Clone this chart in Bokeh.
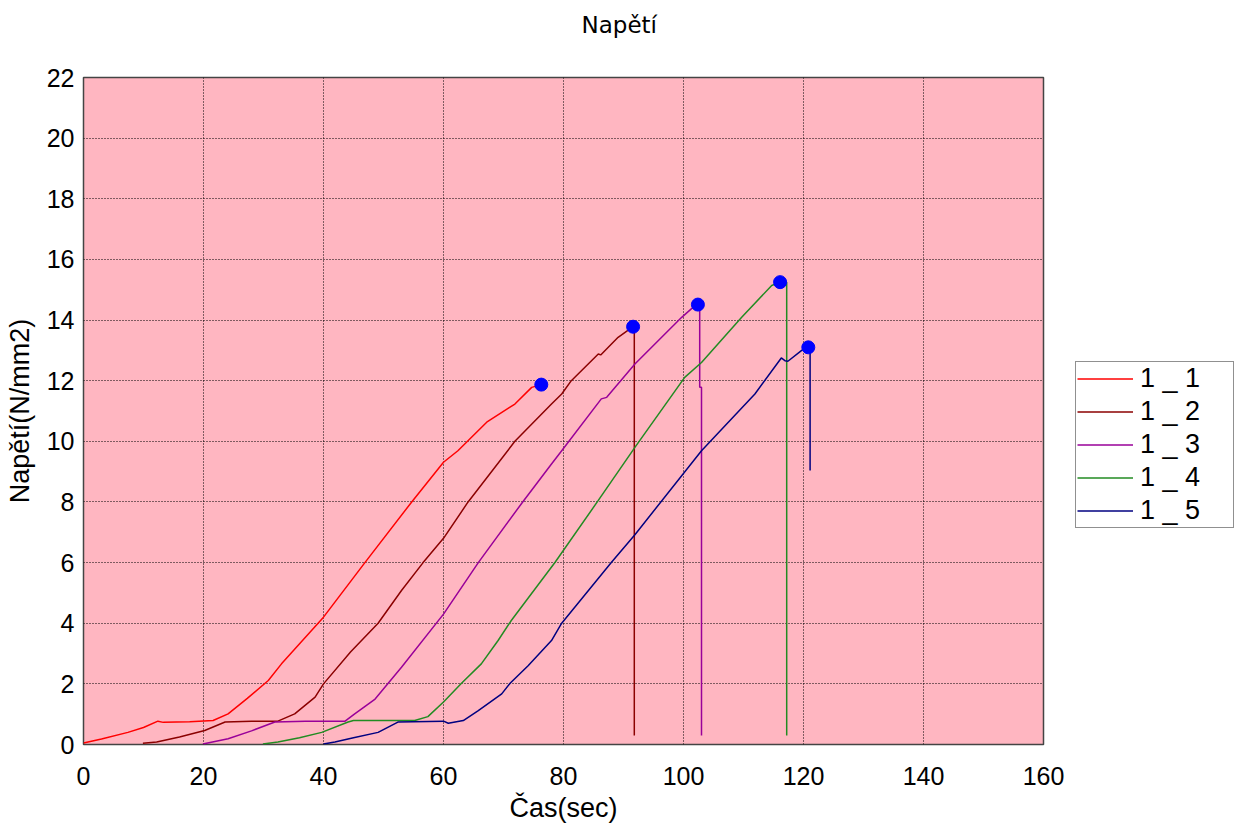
from bokeh.plotting import figure
from bokeh.models import Legend, LegendItem, Range1d, FixedTicker, Title
from bokeh.embed import file_html
from bokeh.resources import INLINE

# ---- data ----
x_ticks = [0, 20, 40, 60, 80, 100, 120, 140, 160]
y_ticks = [0, 2, 4, 6, 8, 10, 12, 14, 16, 18, 20, 22]

labels = ["1 _ 1", "1 _ 2", "1 _ 3", "1 _ 4", "1 _ 5"]

s1_x = [0, 3, 7.4, 10, 12.4, 13.3, 17.7, 21.6, 24.1, 27.3, 30.8, 33, 40, 46.9,
        54.7, 60, 62.4, 67.2, 71.9, 74.7, 76.3]
s1_y = [0.05, 0.18, 0.40, 0.56, 0.77, 0.73, 0.75, 0.79, 1.01, 1.52, 2.11, 2.66, 4.2, 6.0,
        8.0, 9.31, 9.69, 10.63, 11.23, 11.78, 11.87]

s2_x = [9.9, 12.2, 16, 20.2, 23.6, 28, 32.4, 35.2, 38.6, 40, 44.5, 49.1, 53, 56.6, 60,
        64.1, 71.9, 78, 79.7, 81.3, 85.8, 86.2, 89.1, 91.6, 91.8, 91.8]
s2_y = [0.04, 0.08, 0.25, 0.46, 0.74, 0.77, 0.77, 1.01, 1.56, 2.0, 3.05, 4.0, 5.08, 6.0, 6.8,
        8.0, 10.0, 11.23, 11.56, 12.0, 12.88, 12.85, 13.43, 13.78, 13.78, 0.3]

s3_x = [19.9, 24.1, 28, 31.9, 37, 43.6, 45.2, 48.6, 53, 60, 65.8, 73.2, 78, 79.7, 86.3,
        87.2, 91.9, 99.7, 101.3, 102.4, 102.7, 102.7, 103.0, 103.0]
s3_y = [0.02, 0.19, 0.45, 0.74, 0.77, 0.77, 1.01, 1.5, 2.55, 4.3, 6.0, 8.0, 9.25, 9.69, 11.4,
        11.45, 12.55, 14.09, 14.37, 14.51, 14.51, 11.78, 11.78, 0.3]

s4_x = [29.9, 32.4, 36, 39.7, 44.1, 45, 52.4, 55.2, 57.4, 60, 63, 66.3, 69.1, 71.3, 78.6,
        85.8, 91.9, 100.2, 103, 109.7, 114.7, 116.1, 117.2, 117.2]
s4_y = [0.02, 0.08, 0.22, 0.4, 0.74, 0.79, 0.79, 0.79, 0.92, 1.4, 2.02, 2.66, 3.43, 4.09, 6.01,
        8.05, 9.8, 12.11, 12.6, 14.09, 15.14, 15.25, 15.25, 0.3]

s5_x = [40, 41.9, 45, 49.1, 52.4, 60, 60.8, 63.3, 65.8, 69.7, 71.1, 74.1, 78, 79.7, 88,
        91.9, 103, 111.9, 116.3, 116.9, 117.4, 119.7, 120.8, 121.1, 121.1]
s5_y = [0.02, 0.08, 0.22, 0.4, 0.74, 0.77, 0.70, 0.79, 1.12, 1.67, 2.02, 2.6, 3.43, 4.0, 6.01,
        6.92, 9.69, 11.56, 12.75, 12.66, 12.64, 13.0, 13.1, 13.1, 9.04]

peak_x = [76.3, 91.6, 102.4, 116.1, 120.8]
peak_y = [11.87, 13.78, 14.51, 15.25, 13.1]

colors = ["#FF0000", "#8B0000", "#990099", "#228B22", "#000080"]
series = [(s1_x, s1_y), (s2_x, s2_y), (s3_x, s3_y), (s4_x, s4_y), (s5_x, s5_y)]

FONT = "Liberation Sans"

p = figure(frame_width=960, frame_height=667, output_backend="svg", toolbar_location=None,
           x_range=Range1d(0, 160), y_range=Range1d(0, 22),
           min_border_left=83, min_border_right=191, min_border_top=77,
           min_border_bottom=90, background_fill_color="#FFB6C1",
           border_fill_color="white", title="Napětí")
p.title.align = "left"
p.title.offset = 498
p.title.standoff = 8
p.title.text_font = "DejaVu Sans"
p.title.text_font_size = "23px"
p.title.text_font_style = "normal"
p.title.text_color = "black"

# empty spacer between the title and the plot frame
p.add_layout(Title(text=" ", text_font_size="1px", standoff=33), "above")

p.outline_line_color = "#444444"
p.outline_line_width = 1.5

for ax in (p.xaxis[0], p.yaxis[0]):
    ax.axis_line_color = None
    ax.major_tick_line_color = None
    ax.minor_tick_line_color = None
    ax.major_label_text_font = FONT
    ax.major_label_text_font_size = "25px"
    ax.major_label_text_color = "black"
    ax.axis_label_text_font = FONT
    ax.axis_label_text_font_size = "27px"
    ax.axis_label_text_font_style = "normal"
    ax.axis_label_text_color = "black"

p.xaxis.ticker = FixedTicker(ticks=x_ticks)
p.yaxis.ticker = FixedTicker(ticks=y_ticks)
p.xaxis.axis_label = "Čas(sec)"
p.yaxis.axis_label = "Napětí(N/mm2)"
p.xaxis.major_label_standoff = 16
p.xaxis.axis_label_standoff = 5
p.yaxis.major_label_standoff = 3
p.yaxis.axis_label_standoff = 9

for g in (p.xgrid[0], p.ygrid[0]):
    g.grid_line_color = "black"
    g.grid_line_dash = "1 2"
    g.grid_line_width = 1
    g.grid_line_alpha = 1

renderers = []
for (xs, ys), c in zip(series, colors):
    r = p.line(xs, ys, line_color=c, line_width=1.5)
    renderers.append(r)

p.scatter(peak_x, peak_y, size=13, fill_color="#0000FF", line_color="#0000FF")

legend = Legend(items=[LegendItem(label=l, renderers=[r]) for l, r in zip(labels, renderers)],
                location=(32, 216), margin=0, padding=1, spacing=2,
                glyph_width=56, glyph_height=31, label_height=31, label_width=92,
                label_standoff=7, label_text_font=FONT, label_text_font_size="27px",
                label_text_color="black", border_line_color="#222222",
                border_line_width=1.5, background_fill_color="white",
                background_fill_alpha=1)
p.add_layout(legend, "right")

open("out.html", "w").write(file_html(p, INLINE))
